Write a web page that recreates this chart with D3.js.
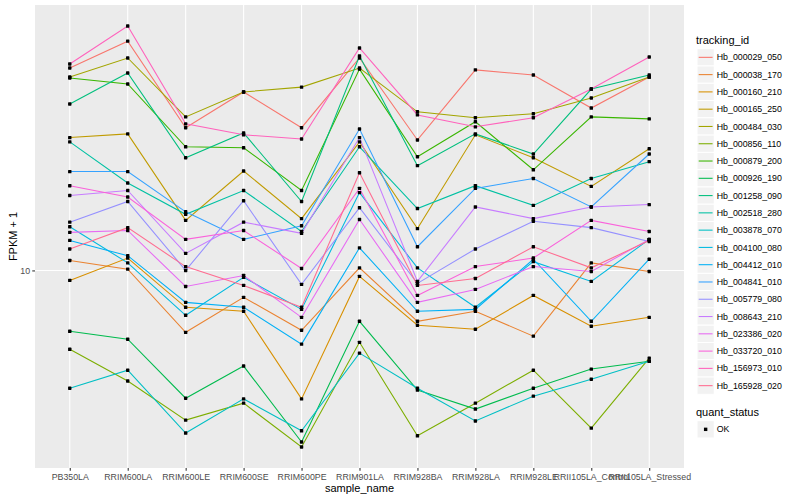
<!DOCTYPE html>
<html>
<head>
<meta charset="utf-8">
<script src="https://cdn.jsdelivr.net/npm/d3@7"></script>
<style>
  body { margin: 0; background: #fff; }
  text { font-family: "Liberation Sans", Arial, sans-serif; }
</style>
</head>
<body>
<svg id="chart" width="800" height="500"></svg>
<script>
// samples on the x axis
const samples = [
  "PB350LA", "RRIM600LA", "RRIM600LE", "RRIM600SE", "RRIM600PE", "RRIM901LA",
  "RRIM928BA", "RRIM928LA", "RRIM928LE", "RRII105LA_Control", "RRII105LA_Stressed"
];

const trackingIds = [
  "Hb_000029_050", "Hb_000038_170", "Hb_000160_210", "Hb_000165_250", "Hb_000484_030",
  "Hb_000856_110", "Hb_000879_200", "Hb_000926_190", "Hb_001258_090", "Hb_002518_280",
  "Hb_003878_070", "Hb_004100_080", "Hb_004412_010", "Hb_004841_010", "Hb_005779_080",
  "Hb_008643_210", "Hb_023386_020", "Hb_033720_010", "Hb_156973_010", "Hb_165928_020"
];

// FPKM + 1, one value per sample
const hb000029_050 = [47.5, 58.4, 30.0, 39.5, 30.0, 51.3, 27.3, 46.8, 45.0, 34.9, 44.3];
const hb000038_170 = [10.8, 10.1, 6.21, 8.13, 6.31, 10.2, 6.76, 7.30, 6.03, 10.6, 9.92];
const hb000160_210 = [9.26, 11.0, 7.53, 7.30, 3.72, 9.55, 6.56, 6.36, 8.25, 6.51, 6.97];
const hb000165_250 = [27.8, 28.6, 14.7, 21.5, 14.9, 26.9, 13.8, 28.4, 23.8, 19.1, 25.5];
const hb000484_030 = [44.3, 51.3, 32.6, 39.5, 41.0, 47.5, 33.9, 32.4, 33.4, 37.7, 44.3];
const hb000856_110 = [5.45, 4.27, 3.16, 3.60, 2.57, 5.75, 2.80, 3.60, 4.64, 2.97, 5.09];
const hb000879_200 = [44.0, 42.0, 25.9, 25.7, 18.5, 47.1, 24.0, 31.4, 21.7, 32.6, 32.1];
const hb000926_190 = [6.26, 5.89, 3.74, 4.79, 2.67, 6.76, 3.98, 3.44, 4.04, 4.68, 4.97];
const hb001258_090 = [36.0, 45.7, 23.8, 28.8, 17.0, 52.1, 22.4, 28.6, 24.5, 40.4, 45.0];
const hb002518_280 = [26.9, 19.6, 15.4, 18.5, 13.5, 25.9, 16.1, 19.2, 16.5, 20.3, 23.1];
const hb003878_070 = [4.04, 4.64, 2.86, 3.72, 2.91, 5.29, 4.04, 3.14, 3.80, 4.33, 4.97];
const hb004100_080 = [14.0, 10.6, 7.08, 9.48, 7.41, 18.2, 10.2, 7.53, 10.7, 9.19, 12.7];
const hb004412_010 = [12.6, 11.2, 7.82, 7.53, 5.67, 11.9, 7.30, 7.41, 10.9, 6.76, 10.9];
const hb004841_010 = [21.4, 21.4, 15.7, 12.7, 14.1, 29.7, 12.0, 18.8, 20.3, 16.3, 24.5];
const hb005779_080 = [14.5, 17.0, 10.0, 17.1, 8.98, 16.2, 9.05, 11.8, 14.6, 13.9, 12.5];
const hb008643_210 = [17.8, 18.5, 11.4, 14.5, 13.3, 27.8, 9.19, 16.3, 14.9, 16.3, 16.6];
const hb023386_020 = [13.4, 13.6, 8.84, 9.62, 6.97, 14.8, 7.82, 8.64, 10.3, 9.92, 12.7];
const hb033720_010 = [19.2, 17.6, 12.7, 13.6, 10.15, 18.8, 8.25, 10.3, 11.0, 14.7, 13.5];
const hb156973_010 = [49.0, 65.6, 30.9, 28.4, 27.5, 55.4, 33.1, 30.2, 32.4, 40.4, 51.7];
const hb165928_020 = [11.8, 13.9, 10.3, 8.91, 7.53, 21.2, 8.91, 9.40, 12.0, 10.2, 12.6];

const fpkm = [
  hb000029_050, hb000038_170, hb000160_210, hb000165_250, hb000484_030,
  hb000856_110, hb000879_200, hb000926_190, hb001258_090, hb002518_280,
  hb003878_070, hb004100_080, hb004412_010, hb004841_010, hb005779_080,
  hb008643_210, hb023386_020, hb033720_010, hb156973_010, hb165928_020
];

const quantStatus = ["OK"];
const yTicks = [10];

// ggplot hue palette, 20 levels
const palette = [
  "#F8766D", "#EA8331", "#D89000", "#C09B00", "#A3A500", "#7CAE00", "#39B600",
  "#00BB4E", "#00BF7D", "#00C1A3", "#00BFC4", "#00BAE0", "#00B0F6", "#35A2FF",
  "#9590FF", "#C77CFF", "#E76BF3", "#FA62DB", "#FF62BC", "#FF6C91"
];

const svg = d3.select("#chart");
const margin = { top: 5, right: 116, bottom: 32, left: 35 };
const width = 800 - margin.left - margin.right;
const height = 500 - margin.top - margin.bottom;
const dot = 3.4;

const g = svg
  .append("g")
  .attr("transform", "translate(" + margin.left + "," + margin.top + ")");

// log scale with 5% expansion like ggplot
const all = fpkm.flat();
const lo = Math.log10(d3.min(all));
const hi = Math.log10(d3.max(all));
const pad = (hi - lo) * 0.05;

const x = d3.scalePoint().domain(samples).range([0, width]).padding(0.6);
const y = d3
  .scaleLog()
  .domain([Math.pow(10, lo - pad), Math.pow(10, hi + pad)])
  .range([height, 0]);

const colour = d3.scaleOrdinal().domain(trackingIds).range(palette);

g.append("rect")
  .attr("width", width)
  .attr("height", height)
  .attr("fill", "#EBEBEB");

// grid
g.append("g")
  .selectAll("line")
  .data(samples)
  .enter()
  .append("line")
  .attr("x1", d => x(d))
  .attr("x2", d => x(d))
  .attr("y1", 0)
  .attr("y2", height)
  .attr("stroke", "#fff")
  .attr("stroke-width", 1.1);

g.append("g")
  .selectAll("line")
  .data(yTicks)
  .enter()
  .append("line")
  .attr("x1", 0)
  .attr("x2", width)
  .attr("y1", d => y(d))
  .attr("y2", d => y(d))
  .attr("stroke", "#fff")
  .attr("stroke-width", 1.1);

// axes
const xAxis = g
  .append("g")
  .attr("transform", "translate(0," + height + ")")
  .call(d3.axisBottom(x).tickSize(2.75).tickPadding(3));

const yAxis = g
  .append("g")
  .call(d3.axisLeft(y).tickValues(yTicks).tickFormat(d3.format("d")).tickSize(2.75).tickPadding(2.2));

[xAxis, yAxis].forEach(ax => {
  ax.select(".domain").remove();
  ax.selectAll(".tick line").attr("stroke", "#333333").attr("stroke-width", 1.07);
  ax.selectAll(".tick text")
    .attr("fill", "#4D4D4D")
    .style("font-size", "8.8px")
    .style("font-family", "'Liberation Sans', Arial, sans-serif");
});

// lines
const line = d3
  .line()
  .x((d, i) => x(samples[i]))
  .y(d => y(d));

const rows = trackingIds.map((id, i) => ({ id: id, values: fpkm[i] }));

g.append("g")
  .selectAll("path")
  .data(rows)
  .enter()
  .append("path")
  .attr("d", d => line(d.values))
  .attr("fill", "none")
  .attr("stroke", d => colour(d.id))
  .attr("stroke-width", 1.07);

// points (small squares, as in the png output)
const pts = [];
rows.forEach(r => r.values.forEach((v, i) => pts.push({ s: samples[i], v: v })));

g.append("g")
  .selectAll("rect")
  .data(pts)
  .enter()
  .append("rect")
  .attr("x", d => x(d.s) - dot / 2)
  .attr("y", d => y(d.v) - dot / 2)
  .attr("width", dot)
  .attr("height", dot)
  .attr("rx", 0.6)
  .attr("fill", "#000");

// axis titles
svg.append("text")
  .attr("x", margin.left + width / 2)
  .attr("y", 492)
  .attr("text-anchor", "middle")
  .style("font-size", "11px")
  .text("sample_name");

svg.append("text")
  .attr("transform", "translate(16.5," + (margin.top + height / 2) + ") rotate(-90)")
  .attr("text-anchor", "middle")
  .style("font-size", "11px")
  .text("FPKM + 1");

// legend: tracking_id
const keySize = 17.28;
const legend = svg.append("g").attr("transform", "translate(697,0)");

legend.append("text")
  .attr("x", -1)
  .attr("y", 44)
  .style("font-size", "11px")
  .text("tracking_id");

const item = legend
  .selectAll(".item")
  .data(trackingIds)
  .enter()
  .append("g")
  .attr("class", "item")
  .attr("transform", (d, i) => "translate(0," + (48.7 + i * keySize) + ")");

item.append("rect")
  .attr("width", keySize)
  .attr("height", keySize)
  .attr("fill", "#F2F2F2")
  .attr("stroke", "#fff")
  .attr("stroke-width", 1);

item.append("line")
  .attr("x1", 1.7)
  .attr("x2", keySize - 1.7)
  .attr("y1", keySize / 2)
  .attr("y2", keySize / 2)
  .attr("stroke", d => colour(d))
  .attr("stroke-width", 1.07);

item.append("text")
  .attr("x", keySize + 2.5)
  .attr("y", keySize / 2 + 3.1)
  .style("font-size", "8.8px")
  .text(d => d);

// legend: quant_status
legend.append("text")
  .attr("x", -1)
  .attr("y", 416)
  .style("font-size", "11px")
  .text("quant_status");

const qItem = legend
  .selectAll(".qitem")
  .data(quantStatus)
  .enter()
  .append("g")
  .attr("class", "qitem")
  .attr("transform", (d, i) => "translate(0," + (420.7 + i * keySize) + ")");

qItem.append("rect")
  .attr("width", keySize)
  .attr("height", keySize)
  .attr("fill", "#F2F2F2")
  .attr("stroke", "#fff");

qItem.append("rect")
  .attr("x", keySize / 2 - dot / 2)
  .attr("y", keySize / 2 - dot / 2)
  .attr("width", dot)
  .attr("height", dot)
  .attr("fill", "#000");

qItem.append("text")
  .attr("x", keySize + 2.5)
  .attr("y", keySize / 2 + 3.1)
  .style("font-size", "8.8px")
  .text(d => d);
</script>
</body>
</html>
